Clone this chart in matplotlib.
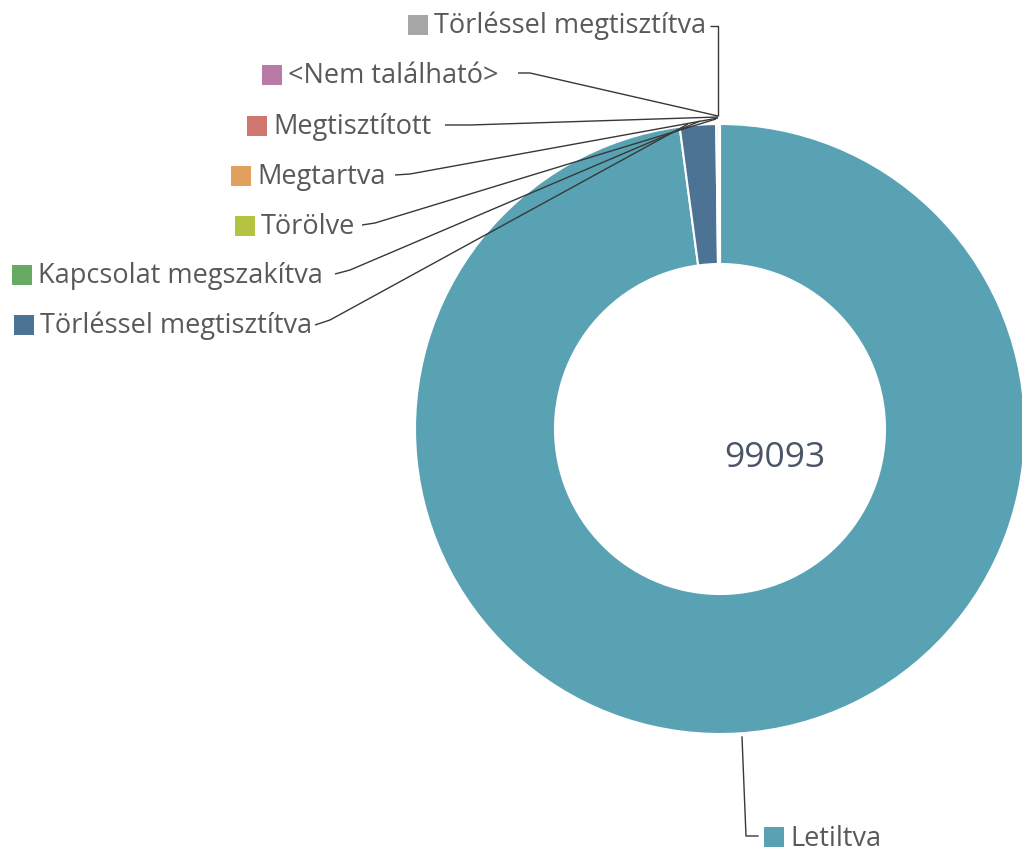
import matplotlib
matplotlib.use('Agg')
import matplotlib.pyplot as plt

plt.rcParams['font.family'] = ['Open Sans', 'DejaVu Sans']

W, H = 1022, 854

# clockwise from 12 o'clock
labels = ['Letiltva', 'Törléssel megtisztítva', 'Kapcsolat megszakítva', 'Törölve',
          'Megtartva', 'Megtisztított', '<Nem található>', 'Törléssel megtisztítva']
values = [97000, 1900, 120, 30, 20, 12, 8, 3]
colors = ['#58A2B4', '#4C7394', '#68AA63', '#B5C342', '#DFA15B', '#D0756F', '#B87BA5', '#A6A6A6']
total_text = '99093'

TEXT_C = '#595959'
LINE_C = '#383838'
FS = 19.5

fig = plt.figure(figsize=(W / 100, H / 100), dpi=100)
ax = fig.add_axes([0, 0, 1, 1])

cx, cy, R = 720, 430, 305
ax.pie(values, colors=colors, startangle=-90, counterclock=True,
       center=(cx, cy), radius=R,
       wedgeprops=dict(width=140, edgecolor='white', linewidth=1.5))
ax.set_xlim(0, W)
ax.set_ylim(H, 0)
ax.set_aspect('equal')
ax.axis('off')

ax.text(775, 458, total_text, ha='center', va='center', fontsize=25.5, color='#4A5568')

# left-side labels: (slice index, square x, y, leader path)
left = [
    (7, 408, 26, [(710, 27), (718, 27), (718, 117)]),
    (6, 262, 76, [(518, 74), (530, 74), (718, 117)]),
    (5, 247, 127, [(445, 126), (470, 126), (718, 118)]),
    (4, 231, 177, [(395, 176), (410, 175), (718, 119)]),
    (3, 235, 227, [(362, 226), (375, 224), (716, 120)]),
    (2, 12, 276, [(335, 275), (350, 271), (700, 122)]),
    (1, 14, 326, [(315, 326), (330, 321), (688, 125)]),
]
for i, sx, y, path in left:
    ax.add_patch(plt.Rectangle((sx, y - 10), 20, 20, color=colors[i], lw=0))
    ax.text(sx + 26, y, labels[i], ha='left', va='center', fontsize=FS, color=TEXT_C)
    xs, ys = zip(*path)
    ax.plot(xs, ys, color=LINE_C, lw=1.0, solid_capstyle='butt')

# Letiltva label at the bottom
ax.plot([742, 746, 758], [738, 837, 837], color=LINE_C, lw=1.0)
ax.add_patch(plt.Rectangle((764, 828), 20, 20, color=colors[0], lw=0))
ax.text(790, 839, labels[0], ha='left', va='center', fontsize=FS, color=TEXT_C)

fig.savefig('out.png', dpi=100)
